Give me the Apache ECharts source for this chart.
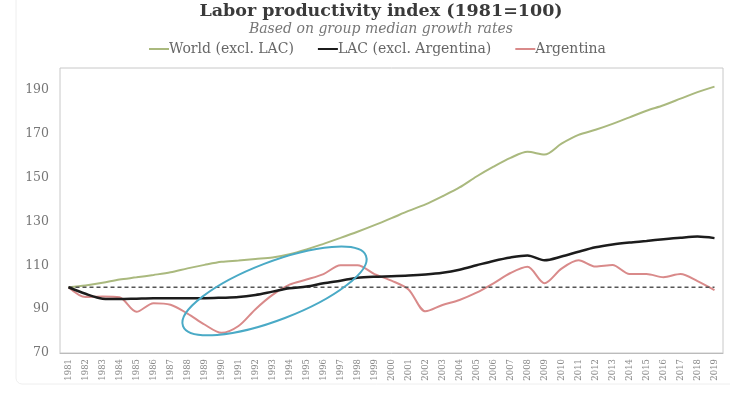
<!DOCTYPE html>
<html><head><meta charset="utf-8">
<script src="https://cdn.jsdelivr.net/npm/echarts@6/dist/echarts.min.js"></script>
<style>html,body{margin:0;padding:0;background:#fff}#c{width:730px;height:393px}</style>
</head><body><div id="c"></div>
<script>
const years = ['1981','1982','1983','1984','1985','1986','1987','1988','1989','1990',
  '1991','1992','1993','1994','1995','1996','1997','1998','1999','2000',
  '2001','2002','2003','2004','2005','2006','2007','2008','2009','2010',
  '2011','2012','2013','2014','2015','2016','2017','2018','2019'];
const world = [100,100.8,102,103.5,104.5,105.6,106.8,108.6,110.2,111.6,
  112.2,112.9,113.6,115,117.2,119.8,122.5,125.3,128.3,131.5,
  134.8,137.8,141.5,145.5,150.5,155,159,161.8,160.5,165.5,
  169.5,171.8,174.5,177.5,180.5,183,186,189,191.5];
const lac = [100,97,94.8,94.6,94.8,95,95,95,95,95.2,
  95.5,96.5,98,99.5,100.3,101.8,103,104.3,104.8,105,
  105.3,105.8,106.6,108,110,112,113.6,114.5,112.3,114,
  116.2,118.2,119.5,120.4,121.1,121.9,122.6,123.1,122.4];
const argentina = [100,95.5,95.8,95.4,88.8,92.7,92,88,83,79.2,
  82.3,90,96.5,101.2,103.5,106,110,110,106,103,
  99,89,91.9,94.2,97.5,101.8,106.5,109.3,101.8,108.5,
  112.3,109.4,110.1,106,106,104.6,106,102.8,98.7];
const baseline = years.map(() => 100);
const seriesNames = ['World (excl. LAC)', 'LAC (excl. Argentina)', 'Argentina'];
const circleAnchor = ['1993', 98.3];

const serif = "'DejaVu Serif', 'Liberation Serif', serif";
const chart = echarts.init(document.getElementById('c'));
chart.setOption({
  animation: false,
  title: {
    text: 'Labor productivity index (1981=100)',
    subtext: 'Based on group median growth rates',
    left: 376, textAlign: 'center', top: -3, itemGap: 2,
    textStyle: {fontFamily: serif, fontWeight: 'bold', fontSize: 17.5, color: '#3a3a3a'},
    subtextStyle: {fontFamily: serif, fontStyle: 'italic', fontSize: 14, color: '#777'}
  },
  legend: {
    data: seriesNames, left: 144, top: 37, icon: 'rect', itemWidth: 20, itemHeight: 2,
    itemGap: 24,
    textStyle: {fontFamily: serif, fontSize: 14, color: '#666', padding: [0,0,0,-5]}
  },
  grid: {left: 60, right: 7, top: 68, bottom: 40, show: true, borderColor: '#c8c8c8', borderWidth: 1},
  xAxis: {
    type: 'category', data: years, boundaryGap: true,
    axisLine: {show: true, lineStyle: {color: '#bbb'}}, axisTick: {show: false},
    axisLabel: {rotate: 90, fontSize: 8.5, color: '#888', fontFamily: serif, margin: 6, interval: 0}
  },
  yAxis: {
    type: 'value', min: 70, max: 200, interval: 20,
    splitLine: {show: false}, axisLine: {show: false}, axisTick: {show: false},
    axisLabel: {fontSize: 12.5, color: '#777', fontFamily: serif, margin: 11, showMaxLabel: false}
  },
  series: [
    {name: seriesNames[0], type: 'line', data: world, smooth: 0.3, symbol: 'none',
     lineStyle: {width: 2, color: '#aab97e'}, itemStyle: {color: '#aab97e'}},
    {name: seriesNames[1], type: 'line', data: lac, smooth: 0.3, symbol: 'none', z: 4,
     lineStyle: {width: 2.5, color: '#1c1c1c'}, itemStyle: {color: '#1c1c1c'}},
    {name: seriesNames[2], type: 'line', data: argentina, smooth: 0.3, symbol: 'none',
     lineStyle: {width: 2, color: '#d98a8a'}, itemStyle: {color: '#d98a8a'}},
    {name: 'base', type: 'line', data: baseline, symbol: 'none', silent: true,
     lineStyle: {width: 1.3, color: '#555', type: [4, 3]}}
  ]
});
const c = chart.convertToPixel({gridIndex: 0}, circleAnchor);
chart.setOption({
  graphic: [
    {type: 'ellipse', x: c[0] + 2, y: c[1], rotation: 21 * Math.PI / 180, z: 10,
     shape: {cx: 0, cy: 0, rx: 98, ry: 29},
     style: {fill: 'none', stroke: '#4aaac6', lineWidth: 2}},
    {type: 'rect', shape: {x: 16, y: -6, width: 730, height: 390, r: 6}, z: -1,
     style: {fill: 'none', stroke: '#eeeeee', lineWidth: 1}}
  ]
});
</script></body></html>
